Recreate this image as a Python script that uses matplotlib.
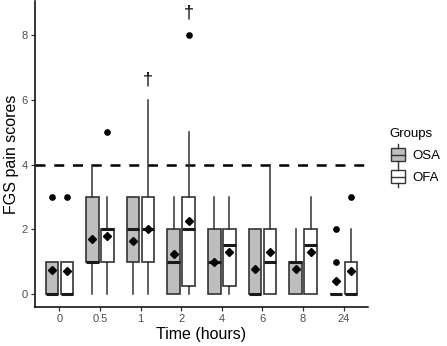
import matplotlib
matplotlib.use("Agg")
import matplotlib.pyplot as plt
from matplotlib.patches import Rectangle
from matplotlib.lines import Line2D
from matplotlib.legend_handler import HandlerBase

plt.rcParams['font.family'] = ['Liberation Sans', 'DejaVu Sans']

times = ["0", "0.5", "1", "2", "4", "6", "8", "24"]
groups = ["OSA", "OFA"]

# OSA statistics
osa_q1 = [0, 1, 1, 0, 0, 0, 0, 0]
osa_med = [0, 1, 2, 1, 1, 0, 1, 0]
osa_q3 = [1, 3, 3, 2, 2, 2, 1, 0]
osa_lo = [0, 0, 0, 0, 0, 0, 0, 0]
osa_hi = [1, 4, 3, 3, 3, 2, 2, 0]
osa_mean = [0.75, 1.7, 1.65, 1.25, 1.0, 0.78, 0.78, 0.4]
osa_out = [[3], [], [], [], [], [], [], [1, 2]]

# OFA statistics
ofa_q1 = [0, 1, 1, 0.25, 0.25, 0, 0, 0]
ofa_med = [0, 2, 2, 2, 1.5, 1, 1.5, 0]
ofa_q3 = [1, 2, 3, 3, 2, 2, 2, 1]
ofa_lo = [0, 0, 0, 0, 0, 0, 0, 0]
ofa_hi = [1, 3, 6, 5, 3, 4, 3, 2]
ofa_mean = [0.7, 1.8, 2.0, 2.25, 1.3, 1.3, 1.3, 0.72]
ofa_out = [[3], [5], [], [8], [], [], [], [3]]

threshold = 4
dagger_pos = [(2, 6.6), (3, 8.68)]  # (time index, y) for OFA

fills = {"OSA": "#BEBEBE", "OFA": "#FFFFFF"}
edge = "#333333"

fig = plt.figure(figsize=(4.47, 3.46), dpi=100)
ax = fig.add_axes([35/447, 1-307/346, (368-35)/447, 307/346 - 0.003])

width = 0.31
offs = {"OSA": -0.185, "OFA": 0.185}

data = {
    "OSA": (osa_q1, osa_med, osa_q3, osa_lo, osa_hi, osa_mean, osa_out),
    "OFA": (ofa_q1, ofa_med, ofa_q3, ofa_lo, ofa_hi, ofa_mean, ofa_out),
}

for g in groups:
    q1, med, q3, lo, hi, mean, out = data[g]
    stats = []
    for i in range(len(times)):
        stats.append(dict(q1=q1[i], med=med[i], q3=q3[i], whislo=lo[i], whishi=hi[i],
                          mean=mean[i], fliers=out[i]))
    pos = [i + offs[g] for i in range(len(times))]
    ax.bxp(stats, positions=pos, widths=width, patch_artist=True, showcaps=False,
           showmeans=True, manage_ticks=False,
           boxprops=dict(facecolor=fills[g], edgecolor=edge, linewidth=1.2),
           medianprops=dict(color="#1a1a1a", linewidth=2.2, solid_capstyle="butt"),
           whiskerprops=dict(color=edge, linewidth=1.1),
           meanprops=dict(marker="D", markerfacecolor="black", markeredgecolor="black",
                          markersize=4.0),
           flierprops=dict(marker="o", markerfacecolor="black", markeredgecolor="black",
                           markersize=3.8),
           zorder=3)

ax.axhline(threshold, color="black", linewidth=1.8, dashes=(4, 3.5), zorder=2)

for i, y in dagger_pos:
    ax.text(i + offs["OFA"], y, "\u2020", ha="center", va="center", fontsize=13, color="black")

ax.set_xlim(-0.6, 7.6)
ax.set_ylim(-0.4, 9.05)
ax.set_xticks(range(len(times)))
ax.set_xticklabels(times)
ax.set_yticks([0, 2, 4, 6, 8])
ax.tick_params(axis="both", colors="#333333", labelcolor="#4D4D4D", labelsize=8,
               length=3, width=0.9, pad=2)
for s in ["top", "right"]:
    ax.spines[s].set_visible(False)
for s in ["left", "bottom"]:
    ax.spines[s].set_linewidth(1.1)
    ax.spines[s].set_color("black")

ax.set_xlabel("Time (hours)", fontsize=11.5, labelpad=2)
ax.set_ylabel("FGS pain scores", fontsize=11.5, va="center")
ax.yaxis.set_label_coords(-(35 - 12) / 333, 0.5)


class BoxHandler(HandlerBase):
    def __init__(self, fc):
        super().__init__()
        self.fc = fc

    def create_artists(self, legend, orig_handle, xdescent, ydescent, width, height,
                       fontsize, trans):
        cx = width / 2 - xdescent
        bw = width * 0.85
        h = height * 1.2
        y0 = -ydescent + height / 2 - h / 2
        rect = Rectangle((cx - bw / 2, y0), bw, h, facecolor=self.fc, edgecolor=edge,
                         lw=1.0, transform=trans)
        med = Line2D([cx - bw / 2, cx + bw / 2], [y0 + h / 2] * 2, color=edge, lw=1.0,
                     transform=trans)
        w1 = Line2D([cx, cx], [y0 + h, y0 + h + height * 0.35], color=edge, lw=1.0,
                    transform=trans)
        w2 = Line2D([cx, cx], [y0, y0 - height * 0.35], color=edge, lw=1.0, transform=trans)
        return [rect, med, w1, w2]


handles = [Rectangle((0, 0), 1, 1), Rectangle((0, 0), 1, 1)]
leg = fig.legend(handles, groups, title="Groups", loc="upper left",
                 bbox_to_anchor=(378/447, 1-116/346), frameon=False, fontsize=9.5,
                 title_fontsize=9.5, handlelength=1.2, handleheight=0.9,
                 handletextpad=0.5, labelspacing=0.7,
                 handler_map={handles[0]: BoxHandler(fills["OSA"]),
                              handles[1]: BoxHandler(fills["OFA"])})
leg._legend_box.align = "left"

fig.savefig("out.png", dpi=100)
